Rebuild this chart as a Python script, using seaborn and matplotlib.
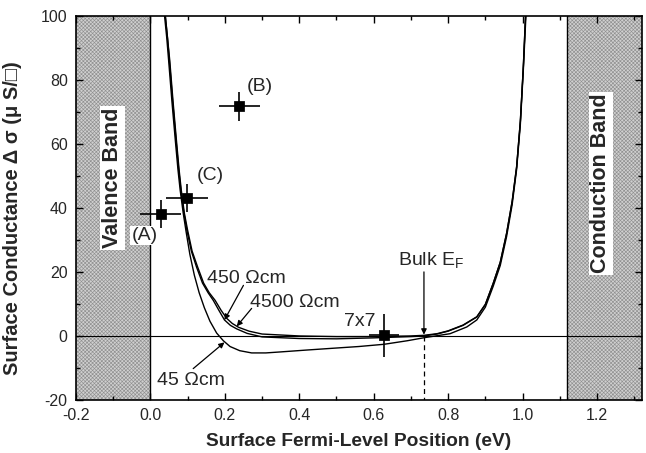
import matplotlib
matplotlib.use("Agg")
import matplotlib.pyplot as plt
import seaborn as sns
import pandas as pd
from matplotlib.patches import Rectangle

# ---------------- data ----------------
x450 = [0.040, 0.046, 0.051, 0.060, 0.069, 0.076, 0.082, 0.090, 0.098, 0.110, 0.124, 0.140, 0.155, 0.169,
        0.185, 0.199, 0.215, 0.232, 0.26, 0.30, 0.40, 0.50, 0.60, 0.70, 0.735, 0.77, 0.80, 0.84, 0.877,
        0.90, 0.921, 0.94, 0.957, 0.972, 0.984, 0.994, 1.002, 1.008]
y450 = [100, 93, 86, 73, 61, 52, 45.5, 38.5, 33, 26.5, 21.5, 16.5, 13.5, 11.1,
        7.8, 5.0, 3.3, 2.2, 0.8, -0.3, -0.8, -0.9, -0.6, -0.2, 0.0, 0.6, 1.5, 3.3, 5.9,
        9.8, 16.4, 23, 32, 42, 52.8, 67, 84, 100]

x4500 = [0.040, 0.046, 0.052, 0.061, 0.070, 0.077, 0.083, 0.091, 0.100, 0.112, 0.127, 0.143, 0.158, 0.174,
         0.190, 0.205, 0.220, 0.237, 0.265, 0.30, 0.40, 0.50, 0.60, 0.70, 0.735, 0.77, 0.80, 0.84, 0.877,
         0.90, 0.921, 0.94, 0.957, 0.972, 0.984, 0.994, 1.002, 1.008]
y4500 = [100, 93, 86, 73, 61, 52, 45.5, 38.5, 33, 26.5, 21.5, 16.5, 13.5, 11.1,
         8.0, 5.5, 3.9, 2.7, 1.5, 0.6, 0.0, -0.2, -0.2, 0.0, 0.2, 0.7, 1.6, 3.4, 6.0,
         9.9, 16.4, 23, 32, 42, 52.8, 67, 84, 100]

x45 = [0.038, 0.044, 0.049, 0.058, 0.067, 0.074, 0.080, 0.088, 0.096, 0.106, 0.118, 0.131, 0.145, 0.160,
       0.178, 0.196, 0.214, 0.24, 0.272, 0.31, 0.348, 0.42, 0.483, 0.56, 0.628, 0.69, 0.738, 0.805, 0.85,
       0.877, 0.90, 0.921, 0.94, 0.957, 0.972, 0.984, 0.994, 1.002, 1.009]
y45 = [100, 93, 86, 73, 61, 52, 45.5, 38.5, 32.5, 25.5, 19.0, 13.5, 8.8, 4.6,
       0.9, -1.5, -3.3, -4.6, -5.3, -5.3, -5.0, -4.4, -3.9, -3.3, -2.6, -1.5, -0.5, 0.7, 2.8,
       5.0, 9.0, 15.5, 22, 31, 41, 52, 66, 83, 100]

pt_labels = ["(A)", "(B)", "(C)", "7x7"]
pt_x = [0.028, 0.239, 0.099, 0.628]
pt_y = [38.2, 71.7, 43.2, 0.2]
pt_xerr = [0.055, 0.056, 0.057, 0.04]
pt_yerr = [4.4, 4.6, 4.4, 6.7]

valence_edge = 0.0
conduction_edge = 1.12
bulk_ef = 0.735

# ---------------- style ----------------
sns.set_style("ticks")
plt.rcParams['font.family'] = ['Liberation Sans', 'DejaVu Sans']
plt.rcParams['mathtext.fontset'] = 'custom'
plt.rcParams['mathtext.rm'] = 'Liberation Sans'
plt.rcParams['axes.unicode_minus'] = False
plt.rcParams['hatch.linewidth'] = 0.45
plt.rcParams['hatch.color'] = '#909090'

fig = plt.figure(figsize=(6.46, 4.53), dpi=100)
ax = fig.add_axes([0.1176, 0.117, 0.9933 - 0.1176, 0.9653 - 0.117])

xmin, xmax, ymin, ymax = -0.2, 1.32, -20, 100
ax.set_xlim(xmin, xmax)
ax.set_ylim(ymin, ymax)

# band regions
for x0, x1 in [(xmin, valence_edge), (conduction_edge, xmax)]:
    ax.add_patch(Rectangle((x0, ymin), x1 - x0, ymax - ymin, facecolor='#d0d0d0',
                           edgecolor='#909090', hatch='xxxxxxxxx', lw=0, zorder=0))
ax.axvline(valence_edge, color='black', lw=1.0, zorder=1)
ax.axvline(conduction_edge, color='black', lw=1.0, zorder=1)
ax.axhline(0, color='black', lw=0.8, zorder=1)

# curves
for xs, ys in [(x45, y45), (x450, y450), (x4500, y4500)]:
    df = pd.DataFrame({'x': xs, 'y': ys})
    sns.lineplot(data=df, x='x', y='y', sort=False, estimator=None, color='black', lw=1.0, ax=ax, zorder=3)

# data points
ax.errorbar(pt_x, pt_y, xerr=pt_xerr, yerr=pt_yerr, fmt='none', ecolor='black', elinewidth=1.2, capsize=0, zorder=4)
sns.scatterplot(x=pt_x, y=pt_y, marker='s', s=45, color='black', edgecolor='black', ax=ax, zorder=5)

fs = 14
ax.text(-0.015, 31.4, "(A)", fontsize=fs, ha='center', va='center', zorder=6,
        bbox=dict(facecolor='white', edgecolor='none', pad=1))
ax.text(0.294, 77.8, "(B)", fontsize=fs, ha='center', va='center', zorder=6)
ax.text(0.16, 50.0, "(C)", fontsize=fs, ha='center', va='center', zorder=6)
ax.text(0.606, 4.4, "7x7", fontsize=fs, ha='right', va='center', zorder=6)

ax.text(0.151, 17.9, "450 Ωcm", fontsize=fs, ha='left', va='center', zorder=6)
ax.text(0.268, 10.6, "4500 Ωcm", fontsize=fs, ha='left', va='center', zorder=6)
ax.text(0.017, -13.8, "45 Ωcm", fontsize=fs, ha='left', va='center', zorder=6)

arw = dict(arrowstyle='-|>', color='black', lw=0.9, mutation_scale=8, shrinkA=0, shrinkB=0)
ax.annotate("", xy=(0.199, 5.0), xytext=(0.25, 15.8), arrowprops=arw, zorder=6)
ax.annotate("", xy=(0.232, 3.0), xytext=(0.272, 8.6), arrowprops=arw, zorder=6)
ax.annotate("", xy=(0.199, -2.0), xytext=(0.115, -10.2), arrowprops=arw, zorder=6)

ax.text(0.666, 23.6, r"Bulk E$_\mathregular{F}$", fontsize=fs, ha='left', va='center', zorder=6)
ax.annotate("", xy=(bulk_ef, 0.4), xytext=(bulk_ef, 20), arrowprops=arw, zorder=6)
ax.plot([bulk_ef, bulk_ef], [0, ymin], color='black', lw=0.9, ls=(0, (4, 3)), zorder=2)

ax.text(-0.102, 49.4, "Valence Band", fontsize=15.5, fontweight='bold', rotation=90, ha='center', va='center',
        zorder=6, bbox=dict(facecolor='white', edgecolor='none', pad=1.2))
ax.text(1.21, 47.7, "Conduction Band", fontsize=15.5, fontweight='bold', rotation=90, ha='center', va='center',
        zorder=6, bbox=dict(facecolor='white', edgecolor='none', pad=1.2))

# axes formatting
ax.set_xticks([-0.2, 0.0, 0.2, 0.4, 0.6, 0.8, 1.0, 1.2])
ax.set_xticklabels(["-0.2", "0.0", "0.2", "0.4", "0.6", "0.8", "1.0", "1.2"])
ax.set_xticks([-0.1, 0.1, 0.3, 0.5, 0.7, 0.9, 1.1, 1.3], minor=True)
ax.set_yticks([-20, 0, 20, 40, 60, 80, 100])
ax.set_yticks([-10, 10, 30, 50, 70, 90], minor=True)
ax.tick_params(which='both', direction='in', top=True, right=True, labelsize=11.5, width=1.0, color='black')
ax.tick_params(which='major', length=5, pad=6)
ax.tick_params(which='minor', length=3)
for s in ax.spines.values():
    s.set_linewidth(1.2)
    s.set_color('black')
    s.set_zorder(7)

ax.set_xlabel("Surface Fermi-Level Position (eV)", fontsize=13.8, fontweight='bold', labelpad=7)
ax.set_ylabel("Surface Conductance Δ σ (μ S/□)", fontsize=14.5, fontweight='bold')
ax.yaxis.set_label_coords(-0.095, 0.472)

fig.savefig("out.png", dpi=100)
